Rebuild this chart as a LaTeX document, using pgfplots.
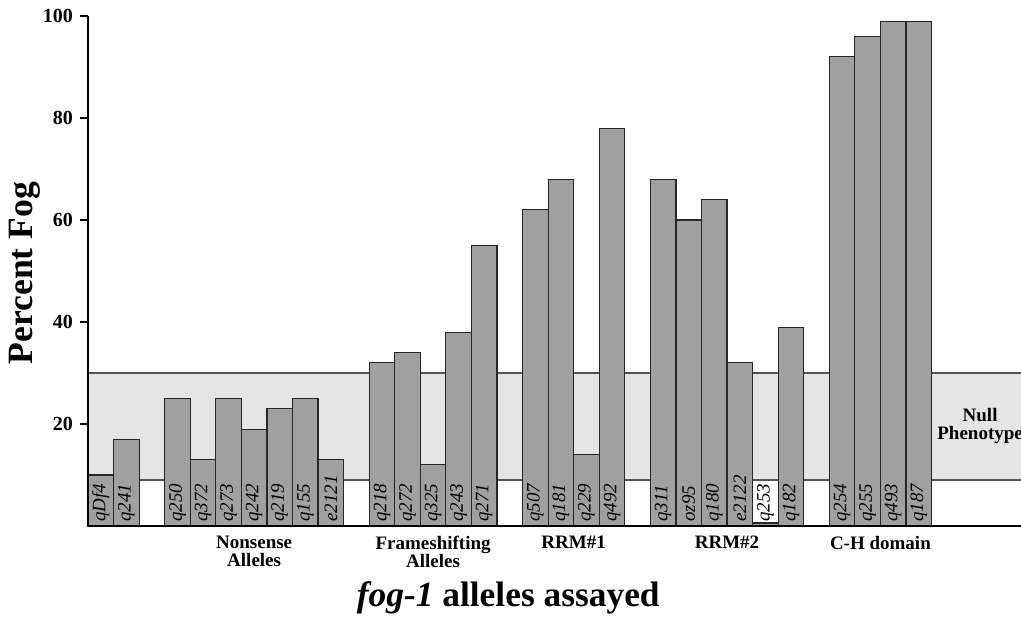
\documentclass[border=0pt]{standalone}
\usepackage{pgfplots}
\pgfplotsset{compat=1.18}
\usepackage{fontspec}
\setmainfont{Liberation Serif}
\definecolor{barfill}{HTML}{A0A0A0}
\definecolor{bandfill}{HTML}{E5E5E5}
\definecolor{bandline}{HTML}{555555}
\begin{document}
\begin{tikzpicture}
\begin{axis}[
  scale only axis,
  width=466.5pt, height=255pt,
  xmin=-0.5, xmax=36, ymin=0, ymax=100,
  axis x line=bottom, axis y line=left,
  axis line style={-, line width=1.4pt, black},
  axis on top,
  ytick={20,40,60,80,100},
  yticklabel style={font=\bfseries\fontsize{10}{12}\selectfont},
  /pgf/number format/assume math mode=true,
  y tick style={line width=1.2pt, black},
  major tick length=4pt,
  tick align=outside,
  xtick=\empty,
  clip=false,
]
\coordinate (O) at (rel axis cs:0,0);
% null phenotype band
\addplot[fill=bandfill, draw=none, forget plot] coordinates {(-0.5,9) (36,9) (36,30) (-0.5,30)} -- cycle;
\addplot[bandline, line width=0.8pt, forget plot] coordinates {(-0.5,30) (36,30)};
\addplot[bandline, line width=0.8pt, forget plot] coordinates {(-0.5,9) (36,9)};
% bars
\addplot[ybar, bar width=1, bar shift=0pt, fill=barfill, draw=black!85, line width=0.6pt] coordinates {
(0,10) (1,17)
(3,25) (4,13) (5,25) (6,19) (7,23) (8,25) (9,13)
(11,32) (12,34) (13,12) (14,38) (15,55)
(17,62) (18,68) (19,14) (20,78)
(22,68) (23,60) (24,64) (25,32) (26,0.6) (27,39)
(29,92) (30,96) (31,99) (32,99)
};
% allele labels at the base of the bars
\addplot[draw=none, mark=none, nodes near coords, point meta=explicit symbolic,
  every node near coord/.style={rotate=90, anchor=west, inner sep=1pt, font=\itshape\fontsize{9.5}{9.5}\selectfont, black}]
  table[meta=label] {
x y label
0 0.4 qDf4
1 0.4 q241
3 0.4 q250
4 0.4 q372
5 0.4 q273
6 0.4 q242
7 0.4 q219
8 0.4 q155
9 0.4 e2121
11 0.4 q218
12 0.4 q272
13 0.4 q325
14 0.4 q243
15 0.4 q271
17 0.4 q507
18 0.4 q181
19 0.4 q229
20 0.4 q492
22 0.4 q311
23 0.4 oz95
24 0.4 q180
25 0.4 e2122
26 0.4 q253
27 0.4 q182
29 0.4 q254
30 0.4 q255
31 0.4 q493
32 0.4 q187
};
% group labels
\begin{scope}[every node/.style={font=\bfseries\fontsize{9.5}{9}\selectfont, align=center, anchor=north, inner sep=0pt}]
\node at (axis cs:6,0) [yshift=-5pt] {Nonsense\\Alleles};
\node at (axis cs:13,0) [yshift=-5pt] {Frameshifting\\Alleles};
\node at (axis cs:18.5,0) [yshift=-5pt] {RRM\#1};
\node at (axis cs:24.5,0) [yshift=-5pt] {RRM\#2};
\node at (axis cs:30.5,0) [yshift=-5pt] {C-H domain};
\end{scope}
\node[font=\bfseries\fontsize{9.5}{9}\selectfont, align=center] at (axis cs:34.4,19.6) {Null\\Phenotype};
\node[font=\bfseries\fontsize{17.7}{18}\selectfont] at ([yshift=-36pt]axis cs:15.94,0) {\textit{fog-1} alleles assayed};
\node[font=\bfseries\fontsize{17.8}{18}\selectfont, rotate=90] at ([xshift=-31.5pt]rel axis cs:0,0.496) {Percent Fog};
\end{axis}
\pgfresetboundingbox
\path[use as bounding box] ([shift={(-44pt,-50.5pt)}]O) rectangle ([shift={(466.5pt,263pt)}]O);
\end{tikzpicture}
\end{document}
